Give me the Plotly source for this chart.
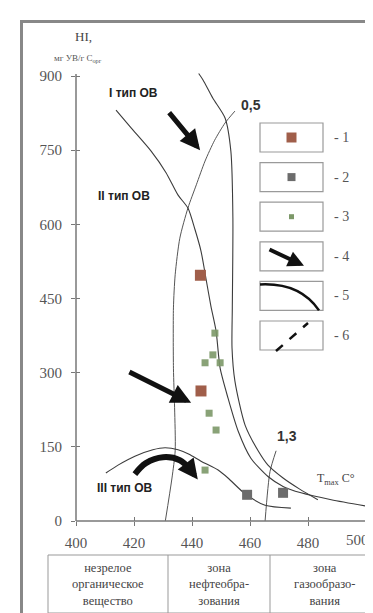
import plotly.graph_objects as go

W, H = 373, 613

# ---------------- data ----------------
x_ticks = [400, 420, 440, 460, 480, 500]
x_ticktext = ["400", "420", "440", "460", "480", ""]
x_last_label = "500"
y_ticks = [0, 150, 300, 450, 600, 750, 900]

# samples (Tmax, HI)
type1_tmax = [442.9, 443.1]
type1_hi = [497, 263]
type2_tmax = [459.0, 471.4]
type2_hi = [53, 57]
type3_tmax = [447.9, 447.2, 444.5, 449.7, 445.9, 448.3, 444.5]
type3_hi = [380, 336, 320, 320, 218, 184, 103]

# kerogen evolution curves
kerI_tmax = [442.3, 443.8, 447.2, 451.4, 453.4, 454.1, 453.9, 453.8, 454.8, 458.3, 462.8, 466.2, 471.4, 477.0, 483.4]
kerI_hi = [905, 892, 855, 815, 748, 613, 431, 350, 283, 194, 142, 113, 87, 65, 43]
kerII_tmax = [413.8, 419.0, 425.9, 431.0, 435.2, 438.6, 441.0, 443.1, 444.8, 446.5, 448.3, 449.7, 452.4, 455.9, 460.3, 466.2, 471.4, 477.6, 488.0, 504.0]
kerII_hi = [831, 795, 748, 705, 659, 633, 590, 546, 491, 435, 384, 309, 249, 182, 127, 90, 70, 57, 43, 26]
kerIII_tmax = [410.3, 414.5, 420.3, 426.5, 430.7, 435.2, 439.0, 443.1, 449.0, 452.4, 458.3, 465.2, 474.1]
kerIII_hi = [97, 113, 131, 144, 148, 144, 135, 121, 103, 87, 55, 32, 26]

# vitrinite reflectance isolines
ro05_tmax = [454.8, 451.4, 447.8, 444.5, 441.5, 438.6, 435.8, 434.2, 433.6, 433.6, 434.0, 434.2, 433.1, 430.8]
ro05_hi = [829, 805, 770, 728, 680, 633, 572, 498, 431, 309, 229, 142, 87, 0]
ro13_tmax = [465.2, 466.9, 469.0]
ro13_hi = [0, 100, 142]

# thick arrows (start -> end)
arrowA = [(431.7, 829), (442.8, 750)]
arrowB = [(417.9, 303), (439.7, 239)]
arc_tmax = [420.3, 424.1, 430.0, 435.8, 439.4]
arc_hi = [95, 117, 129, 123, 104]
arc_head = (442.0, 84)

zone_labels = ["незрелое<br>органическое<br>вещество",
               "зона<br>нефтеобра-<br>зования",
               "зона<br>газообразо-<br>вания"]
legend_labels = ["- 1", "- 2", "- 3", "- 4", "- 5", "- 6"]

# ---------------- geometry ----------------
XR = [400, 504]
YR = [0, 915]
ppx = 290 / 100.0
ppy = 445 / 900.0
ax_left, ax_bottom = 68, 513
ax_right = ax_left + (XR[1] - XR[0]) * ppx
ax_top = ax_bottom - (YR[1] - YR[0]) * ppy

C1 = "#a05e4a"
C2 = "#6c6c6c"
C3 = "#7c9868"
LINE = "#3c3c3c"
SERIF = "Liberation Serif"
SANS = "Liberation Sans"

fig = go.Figure()

def curve(xs, ys, w=1.1, color=LINE):
    fig.add_trace(go.Scatter(x=xs, y=ys, mode="lines",
                             line=dict(color=color, width=w, shape="spline", smoothing=0.7),
                             hoverinfo="skip", showlegend=False))

curve(ro05_tmax, ro05_hi, 1.0, "#555")
curve(ro13_tmax, ro13_hi, 1.0, "#555")
curve(kerI_tmax, kerI_hi)
curve(kerII_tmax, kerII_hi)
curve(kerIII_tmax, kerIII_hi)

# curved thick arrow body
fig.add_trace(go.Scatter(x=arc_tmax, y=arc_hi, mode="lines",
                         line=dict(color="#111", width=6, shape="spline"),
                         hoverinfo="skip", showlegend=False))

fig.add_trace(go.Scatter(x=type3_tmax, y=type3_hi, mode="markers",
                         marker=dict(symbol="square", size=7, color=C3, opacity=0.9),
                         showlegend=False))
fig.add_trace(go.Scatter(x=type2_tmax, y=type2_hi, mode="markers",
                         marker=dict(symbol="square", size=10, color=C2),
                         showlegend=False))
fig.add_trace(go.Scatter(x=type1_tmax, y=type1_hi, mode="markers",
                         marker=dict(symbol="square", size=11, color=C1),
                         showlegend=False))

# legend sample markers (pixel overlay axes)
leg_top0, leg_step, leg_h = 115, 39.6, 29
leg_x0, leg_x1 = 252, 315
leg_cx = (leg_x0 + leg_x1) / 2
def leg_cy(i):
    return leg_top0 + i * leg_step + leg_h / 2

for i, (c, s) in enumerate([(C1, 10), (C2, 8), (C3, 5)]):
    fig.add_trace(go.Scatter(x=[leg_cx], y=[leg_cy(i)], mode="markers", xaxis="x2", yaxis="y2",
                             marker=dict(symbol="square", size=s, color=c),
                             hoverinfo="skip", showlegend=False))

# dummy trace for inside-tick overlay axes
fig.add_trace(go.Scatter(x=[None], y=[None], xaxis="x3", yaxis="y3", showlegend=False))

shapes = []
def pline(x0, y0, x1, y1, color="#777", width=1.5, dash="solid"):
    shapes.append(dict(type="line", xref="x2", yref="y2", x0=x0, y0=y0, x1=x1, y1=y1,
                       line=dict(color=color, width=width, dash=dash)))

# outer frame (left and top edges visible) in paper coords
def paper_line(x0, y0, x1, y1, color, width):
    shapes.append(dict(type="line", xref="paper", yref="paper",
                       x0=x0 / W, y0=1 - y0 / H, x1=x1 / W, y1=1 - y1 / H,
                       line=dict(color=color, width=width), layer="above"))
paper_line(13.5, 12, 13.5, H, "#888888", 3)
paper_line(12, 13.5, W, 13.5, "#888888", 3)
# axis lines
pline(ax_left, ax_bottom, ax_left + 100 * ppx + 2, ax_bottom)
pline(ax_left, ax_bottom, ax_left, ax_bottom - 900 * ppy - 2)
# table
pline(40, 547, 370, 547, "#999", 1)
pline(40, 605, 370, 605, "#999", 1)
pline(40, 547, 40, 605, "#999", 1)
pline(370, 547, 370, 605, "#999", 1)
pline(160, 547, 160, 605, "#999", 1)
pline(262, 547, 262, 605, "#999", 1)
# legend boxes
for i in range(6):
    t = leg_top0 + i * leg_step
    shapes.append(dict(type="rect", xref="x2", yref="y2", x0=leg_x0, y0=t, x1=leg_x1, y1=t + leg_h,
                       line=dict(color="#9a9a9a", width=1.2)))
# legend 5 curve, legend 6 dashed line
t5 = leg_top0 + 4 * leg_step
shapes.append(dict(type="path", xref="x2", yref="y2",
                   path=f"M {leg_x0},{t5+3} Q {leg_x0+40},{t5+1} {leg_x1-4},{t5+leg_h}",
                   line=dict(color="#111", width=2.5)))
t6 = leg_top0 + 5 * leg_step
pline(leg_x0 + 16, t6 + leg_h + 1, leg_x0 + 48, t6 + 2, "#111", 2.5, "dash")

annotations = []
def ptext(x, y, text, size=12, family=SERIF, color="#333", bold=False, align="center", xanchor="center"):
    if bold:
        text = f"<b>{text}</b>"
    annotations.append(dict(xref="x2", yref="y2", x=x, y=y, text=text, showarrow=False,
                            font=dict(family=family, size=size, color=color),
                            align=align, xanchor=xanchor, yanchor="middle"))

ptext(75, 28, "HI,", 13, color="#444")
ptext(70, 50, "мг УВ/г С<sub>орг</sub>", 9, color="#555")
ptext(125, 85, "I тип ОВ", 12, SANS, "#222", True)
ptext(116, 188, "II тип ОВ", 12, SANS, "#222", True)
ptext(117, 480, "III тип ОВ", 12, SANS, "#222", True)
ptext(243, 97, "0,5", 14, SANS, "#333", True)
ptext(279, 428, "1,3", 14, SANS, "#333", True)
ptext(328, 471, "T<sub>max</sub> C°", 12, SERIF, "#444")
ptext(349, 532, x_last_label, 15, SERIF, "#555")
for i, lab in enumerate(legend_labels):
    ptext(324, leg_cy(i), lab, 14, SERIF, "#555", xanchor="left")
for cx, lab in zip([100, 211, 316], zone_labels):
    ptext(cx, 576, lab, 12.5, SERIF, "#444")

def arrow(start, end, ref=("x", "y"), width=5, size=0.8):
    annotations.append(dict(xref=ref[0], yref=ref[1], axref=ref[0], ayref=ref[1],
                            x=end[0], y=end[1], ax=start[0], ay=start[1], text="",
                            showarrow=True, arrowhead=2, arrowsize=size, arrowwidth=width,
                            arrowcolor="#111", standoff=0))

arrow(*arrowA)
arrow(*arrowB)
arrow((arc_tmax[-1], arc_hi[-1]), arc_head, width=5, size=0.8)
t4 = leg_top0 + 3 * leg_step
arrow((leg_x0 + 8, t4 + 7), (leg_x0 + 44, t4 + 24), ref=("x2", "y2"), width=4, size=0.8)

tickfont = dict(family=SERIF, size=15, color="#555")
fig.update_layout(
    width=W, height=H,
    margin=dict(l=0, r=0, t=0, b=0, autoexpand=False),
    paper_bgcolor="white", plot_bgcolor="rgba(0,0,0,0)",
    showlegend=False,
    xaxis=dict(domain=[ax_left / W, ax_right / W], range=XR, anchor="y",
               tickvals=x_ticks, ticktext=x_ticktext, ticks="outside", ticklen=4, tickwidth=1.3,
               tickcolor="#777", showline=False, showgrid=False, zeroline=False, tickfont=tickfont,
               ticklabelstandoff=4),
    yaxis=dict(domain=[(H - ax_bottom) / H, (H - ax_top) / H], range=YR, anchor="x",
               tickvals=y_ticks, ticks="outside", ticklen=4, tickwidth=1.3, tickcolor="#777",
               showline=False, showgrid=False, zeroline=False, tickfont=tickfont,
               ticklabelstandoff=6),
    xaxis3=dict(overlaying="x", range=XR, anchor="y3", tickvals=x_ticks, ticks="inside",
                ticklen=4, tickwidth=1.3, tickcolor="#777", showticklabels=False,
                showline=False, showgrid=False, zeroline=False, side="bottom"),
    yaxis3=dict(overlaying="y", range=YR, anchor="x3", tickvals=y_ticks, ticks="inside",
                ticklen=4, tickwidth=1.3, tickcolor="#777", showticklabels=False,
                showline=False, showgrid=False, zeroline=False, side="left"),
    xaxis2=dict(domain=[0, 1], range=[0, W], anchor="y2", visible=False, fixedrange=True),
    yaxis2=dict(domain=[0, 1], range=[H, 0], anchor="x2", visible=False, fixedrange=True),
    shapes=shapes,
    annotations=annotations,
)

fig.write_html("out.html")
